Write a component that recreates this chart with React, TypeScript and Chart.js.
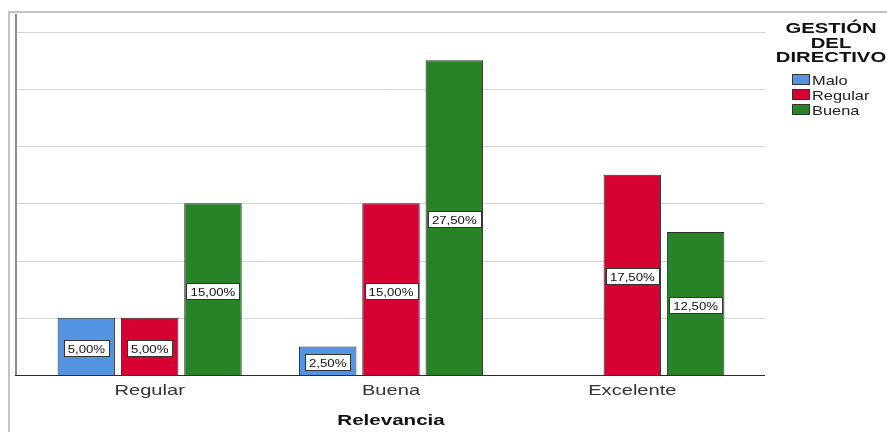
import React, { useEffect, useRef } from "react";
import { Chart, registerables } from "chart.js";

Chart.register(...registerables);

const categories = ["Regular", "Buena", "Excelente"];
const seriesNames = ["Malo", "Regular", "Buena"];
const maloValues: (number | null)[] = [5, 2.5, null];
const regularValues: (number | null)[] = [5, 15, 17.5];
const buenaValues: (number | null)[] = [15, 27.5, 12.5];
const seriesColors = ["#5492e2", "#d60032", "#288228"];
const gridTicks = [5, 10, 15, 20, 25, 30];
const legendTitle = ["GESTIÓN", "DEL", "DIRECTIVO"];
const xAxisTitle = "Relevancia";

const FONT = '"Liberation Sans", Arial, sans-serif';

function stretchedText(
  ctx: CanvasRenderingContext2D,
  text: string,
  x: number,
  y: number,
  sx: number,
  align: CanvasTextAlign
) {
  ctx.save();
  ctx.translate(x, y);
  ctx.scale(sx, 1);
  ctx.textAlign = align;
  ctx.textBaseline = "alphabetic";
  ctx.fillText(text, 0, 0);
  ctx.restore();
}

const decorPlugin = {
  id: "spssDecor",
  beforeDatasetsDraw(chart: any) {
    const ctx: CanvasRenderingContext2D = chart.ctx;
    const y = chart.scales.y;
    const area = chart.chartArea;
    ctx.save();
    // outer frame
    ctx.strokeStyle = "#c4c4c4";
    ctx.lineWidth = 2;
    ctx.beginPath();
    ctx.moveTo(9, 432);
    ctx.lineTo(9, 12);
    ctx.lineTo(887, 12);
    ctx.stroke();
    // gridlines
    ctx.strokeStyle = "#d6d6d6";
    ctx.lineWidth = 1;
    for (const t of gridTicks) {
      const py = Math.round(y.getPixelForValue(t)) + 0.5;
      ctx.beginPath();
      ctx.moveTo(16, py);
      ctx.lineTo(765, py);
      ctx.stroke();
    }
    // vertical axis line
    ctx.strokeStyle = "#8c8c8c";
    ctx.lineWidth = 2;
    ctx.beginPath();
    ctx.moveTo(16, area.top);
    ctx.lineTo(16, y.getPixelForValue(0));
    ctx.stroke();
    ctx.restore();
  },
  afterDatasetsDraw(chart: any) {
    const ctx: CanvasRenderingContext2D = chart.ctx;
    const x = chart.scales.x;
    const y = chart.scales.y;
    const area = chart.chartArea;
    const baseY = Math.round(y.getPixelForValue(0)) + 0.5;
    ctx.save();
    // bottom axis line
    ctx.strokeStyle = "#2b2b2b";
    ctx.lineWidth = 1;
    ctx.beginPath();
    ctx.moveTo(15, baseY);
    ctx.lineTo(765, baseY);
    ctx.stroke();

    // data labels
    ctx.font = `11px ${FONT}`;
    const lsx = 1.2;
    chart.data.datasets.forEach((ds: any, di: number) => {
      const meta = chart.getDatasetMeta(di);
      meta.data.forEach((bar: any, i: number) => {
        const v = ds.data[i];
        if (v === null || v === undefined) return;
        const text = v.toFixed(2).replace(".", ",") + "%";
        const tw = ctx.measureText(text).width * lsx;
        const w = Math.round(tw + 8);
        const h = 16;
        const cy = (bar.y + bar.base) / 2 + 1.5;
        const left = Math.round(bar.x - w / 2) + 0.5;
        const top = Math.round(cy - h / 2) + 0.5;
        ctx.fillStyle = "#ffffff";
        ctx.fillRect(left, top, w, h);
        ctx.strokeStyle = "#333333";
        ctx.lineWidth = 1;
        ctx.strokeRect(left, top, w, h);
        ctx.fillStyle = "#111111";
        stretchedText(ctx, text, bar.x, top + 12, lsx, "center");
      });
    });

    // x tick labels
    ctx.fillStyle = "#333333";
    ctx.font = `15px ${FONT}`;
    categories.forEach((c, i) => {
      stretchedText(ctx, c, x.getPixelForTick(i), 395, 1.34, "center");
    });
    // x title
    ctx.fillStyle = "#111111";
    ctx.font = `bold 15px ${FONT}`;
    stretchedText(ctx, xAxisTitle, (area.left + area.right) / 2, 425, 1.37, "center");

    // legend title
    legendTitle.forEach((t, i) => {
      stretchedText(ctx, t, 831, 33 + i * 14.5, 1.35, "center");
    });
    // legend items
    ctx.font = `13px ${FONT}`;
    seriesNames.forEach((n, i) => {
      const top = 74.5 + i * 15;
      ctx.fillStyle = seriesColors[i];
      ctx.fillRect(792.5, top, 17, 10);
      ctx.strokeStyle = "#333333";
      ctx.lineWidth = 1;
      ctx.strokeRect(792.5, top, 17, 10);
      ctx.fillStyle = "#222222";
      stretchedText(ctx, n, 812, top + 10, 1.26, "left");
    });
    ctx.restore();
  },
};

export default function App() {
  const ref = useRef<HTMLCanvasElement | null>(null);
  useEffect(() => {
    if (!ref.current) return;
    const seriesValues = [maloValues, regularValues, buenaValues];
    const chart = new Chart(ref.current, {
      type: "bar",
      data: {
        labels: categories,
        datasets: seriesNames.map((name, i) => ({
          label: name,
          data: seriesValues[i],
          backgroundColor: seriesColors[i],
          borderColor: "#2e2e2e",
          borderWidth: 1,
          categoryPercentage: 0.787,
          barPercentage: 0.908,
        })),
      },
      options: {
        animation: false,
        responsive: true,
        maintainAspectRatio: false,
        devicePixelRatio: 1,
        layout: { padding: { left: 29, right: 134, top: 14, bottom: 57 } },
        plugins: { legend: { display: false }, tooltip: { enabled: false } },
        scales: {
          x: { display: false, offset: true },
          y: { display: false, min: 0, max: 31.55 },
        },
      },
      plugins: [decorPlugin],
    });
    return () => chart.destroy();
  }, []);
  return (
    <div
      style={{
        position: "fixed",
        left: 0,
        top: 0,
        width: 887,
        height: 432,
        background: "#ffffff",
      }}
    >
      <canvas ref={ref} />
    </div>
  );
}
